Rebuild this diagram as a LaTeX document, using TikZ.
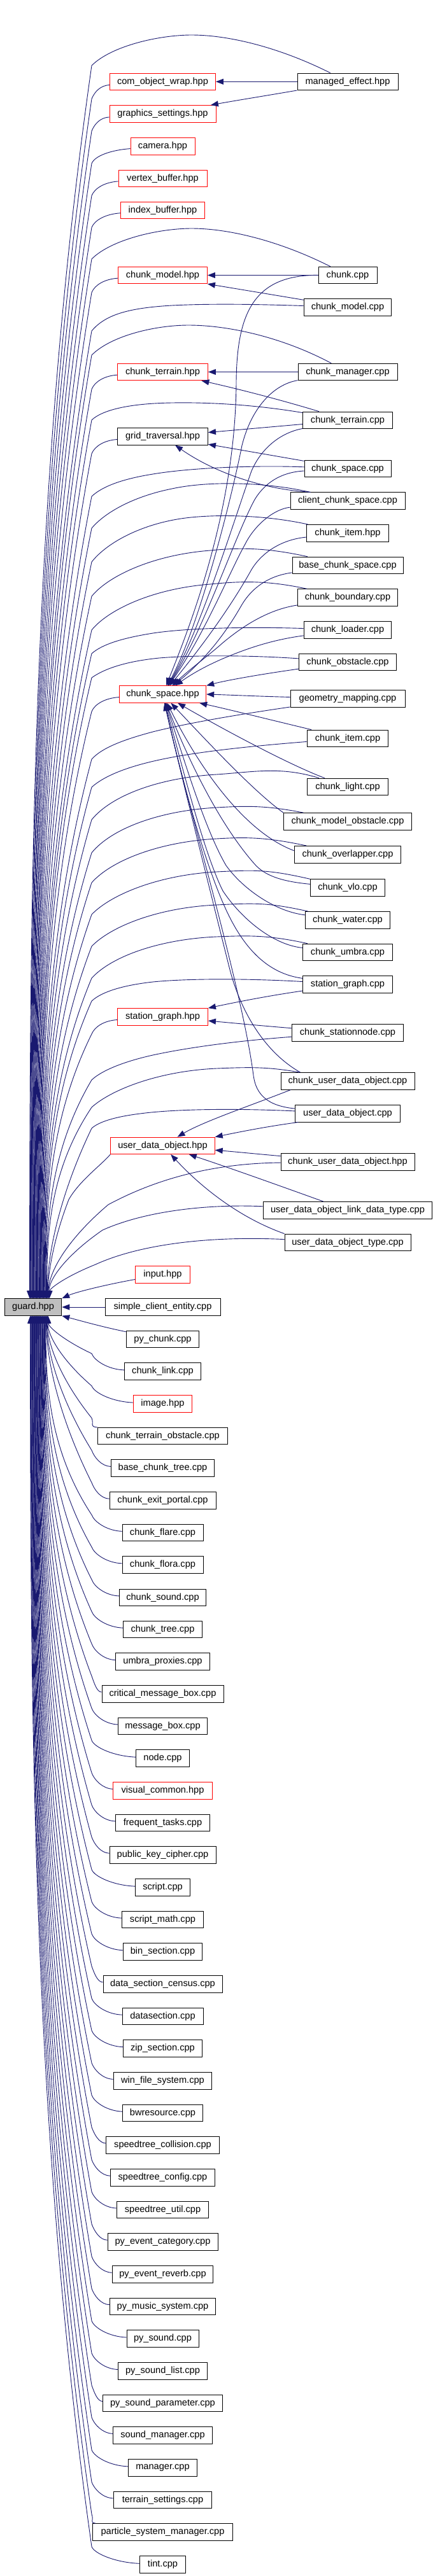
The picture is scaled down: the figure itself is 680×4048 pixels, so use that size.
\documentclass[tikz,border=0pt]{standalone}
\usepackage{fontspec}
\setmainfont{Liberation Sans}
\usetikzlibrary{arrows.meta}
\definecolor{edgecol}{HTML}{191970}
\definecolor{guardgray}{HTML}{BFBFBF}
\tikzset{
  nbox/.style={draw=black, line width=0.9pt, fill=white, minimum height=26.5pt, inner sep=0pt, font=\fontsize{14.6}{17}\selectfont},
  rbox/.style={nbox, draw=red},
  conn/.style={draw=edgecol, line width=0.9pt, -{Triangle[length=12pt,width=9pt]}},
}
% tail from a knee down to the top of guard
\newcommand\gtail[4]{%
  \pgfmathsetmacro\Lt{2040.7-#3}%
  \pgfmathsetmacro\pax{#4+(#2-#4)*0.35*(\Lt<300)}%
  \pgfmathsetmacro\pay{#3+0.35*\Lt}%
  \pgfmathsetmacro\pby{2040.7-0.3*\Lt}%
  \pgfmathsetmacro\gxo{#4-7.4}%
  \draw[conn] #1 .. controls (\pax,\pay) and (#4,\pby) .. ([xshift=\gxo pt]guard.north west);%
}
\newcommand\upE[4]{%
  \pgfmathsetmacro\xl{255.5-#3/2}%
  \pgfmathsetmacro\ca{(\xl+144)/2}%
  \pgfmathsetmacro\ya{#2+6}%
  \pgfmathsetmacro\yb{#2+15}%
  \pgfmathsetmacro\yk{#2+27}%
  \gtail{(#1) .. controls (\ca,\ya) and (149,\yb) .. (144,\yk)}{144}{\yk}{#4}%
}
\newcommand\lowE[4]{%
  \pgfmathsetmacro\xl{255.5-#3/2}%
  \ifdim #3pt>195pt
    \def\ca{140}\pgfmathsetmacro\ya{#2-15}%
  \else
    \pgfmathsetmacro\ca{(\xl+144)/2}\pgfmathsetmacro\ya{#2-3}%
  \fi
  \pgfmathsetmacro\yb{#2-17}%
  \pgfmathsetmacro\yk{#2-28}%
  \pgfmathsetmacro\Lt{\yk-2067.3}%
  \pgfmathsetmacro\pax{#4+(144-#4)*0.35*(\Lt<300)}%
  \pgfmathsetmacro\pay{\yk-0.35*\Lt}%
  \pgfmathsetmacro\pby{2067.3+0.3*\Lt}%
  \pgfmathsetmacro\gxo{#4-7.4}%
  \draw[conn] (#1) .. controls (\ca,\ya) and (148,\yb) .. (144,\yk) .. controls (\pax,\pay) and (#4,\pby) .. ([xshift=\gxo pt]guard.south west);%
}
\newcommand\lownode[6]{\node[#5, minimum width=#3pt] (#1) at (255.5,#2) {#4}; \lowE{#1}{#2}{#3}{#6}}

\begin{document}
\begin{tikzpicture}[x=1pt,y=-1pt]
\fill[white] (0,0) rectangle (680,4048);
\useasboundingbox (0,0) rectangle (680,4048);

% main node
\node[nbox, fill=guardgray, minimum width=89.4pt] (guard) at (52.1,2054) {guard.hpp};

% column 2, above guard
\node[rbox, minimum width=166pt] (cow) at (255.5,128.3) {com\_object\_wrap.hpp};
\node[rbox, minimum width=167pt] (gs) at (255.5,178.8) {graphics\_settings.hpp};
\node[rbox, minimum width=101pt] (cam) at (255.5,229.8) {camera.hpp};
\node[rbox, minimum width=139pt] (vb) at (255.5,280.3) {vertex\_buffer.hpp};
\node[rbox, minimum width=132pt] (ib) at (255.5,330.3) {index\_buffer.hpp};
\node[rbox, minimum width=140pt] (cmh) at (255.5,432.5) {chunk\_model.hpp};
\node[rbox, minimum width=142pt] (cth) at (255.5,584.5) {chunk\_terrain.hpp};
\node[nbox, minimum width=142pt] (gt) at (255.5,685.8) {grid\_traversal.hpp};
\node[rbox, minimum width=136.5pt] (csh) at (255.5,1091) {chunk\_space.hpp};
\node[rbox, minimum width=142pt] (sgh) at (255.5,1597.8) {station\_graph.hpp};
\node[rbox, minimum width=163.5pt] (udoh) at (255.5,1800.3) {user\_data\_object.hpp};
\node[rbox, minimum width=85.5pt] (inp) at (255.5,2002.7) {input.hpp};

% column 3
\node[nbox, minimum width=158pt] (me) at (546,128.3) {managed\_effect.hpp};
\node[nbox, minimum width=92pt] (ccpp) at (546,432.5) {chunk.cpp};
\node[nbox, minimum width=137.7pt] (cmcpp) at (546,482.8) {chunk\_model.cpp};
\node[nbox, minimum width=156pt] (cman) at (546,584.5) {chunk\_manager.cpp};
\node[nbox, minimum width=140.8pt] (ctcpp) at (546,660.3) {chunk\_terrain.cpp};
\node[nbox, minimum width=136pt] (cscpp) at (546,736.3) {chunk\_space.cpp};
\node[nbox, minimum width=180pt] (ccs) at (546,787) {client\_chunk\_space.cpp};
\node[nbox, minimum width=128.6pt] (cih) at (546,837.8) {chunk\_item.hpp};
\node[nbox, minimum width=174pt] (bcs) at (546,888.3) {base\_chunk\_space.cpp};
\node[nbox, minimum width=157.3pt] (cbound) at (546,939) {chunk\_boundary.cpp};
\node[nbox, minimum width=137.7pt] (cload) at (546,989.8) {chunk\_loader.cpp};
\node[nbox, minimum width=152.6pt] (cobs) at (546,1040.3) {chunk\_obstacle.cpp};
\node[nbox, minimum width=180pt] (gm) at (546,1097.8) {geometry\_mapping.cpp};
\node[nbox, minimum width=127.7pt] (cicpp) at (546,1160.3) {chunk\_item.cpp};
\node[nbox, minimum width=127.7pt] (clight) at (546,1236.3) {chunk\_light.cpp};
\node[nbox, minimum width=201pt] (cmo) at (546,1290.8) {chunk\_model\_obstacle.cpp};
\node[nbox, minimum width=167.8pt] (cover) at (546,1342.7) {chunk\_overlapper.cpp};
\node[nbox, minimum width=117.2pt] (cvlo) at (546,1394.8) {chunk\_vlo.cpp};
\node[nbox, minimum width=133pt] (cwater) at (546,1445.8) {chunk\_water.cpp};
\node[nbox, minimum width=141.2pt] (cumbra) at (546,1496.3) {chunk\_umbra.cpp};
\node[nbox, minimum width=141.2pt] (sgcpp) at (546,1546.8) {station\_graph.cpp};
\node[nbox, minimum width=175.7pt] (cstn) at (546,1622.8) {chunk\_stationnode.cpp};
\node[nbox, minimum width=210pt] (cudoc) at (546,1698.8) {chunk\_user\_data\_object.cpp};
\node[nbox, minimum width=164.3pt] (udoc) at (546,1749.8) {user\_data\_object.cpp};
\node[nbox, minimum width=210pt] (cudoh) at (546,1826) {chunk\_user\_data\_object.hpp};
\node[nbox, minimum width=265.4pt] (udol) at (546,1901.8) {user\_data\_object\_link\_data\_type.cpp};
\node[nbox, minimum width=198pt] (udot) at (546,1952.3) {user\_data\_object\_type.cpp};

% column 2, at and below guard
\node[nbox, minimum width=181pt] (sce) at (255.5,2054) {simple\_client\_entity.cpp};
\node[nbox, minimum width=114.7pt] (pyc) at (255.5,2104.5) {py\_chunk.cpp};
\draw[conn] (sce) -- (guard);
\draw[conn] (pyc) .. controls (160,2085) and (125,2075) .. (guard.south east);
\draw[conn] (inp) .. controls (170,2018) and (120,2030) .. (guard.north east);

\lownode{clink}{2155}{120.3}{chunk\_link.cpp}{nbox}{76}
\lownode{img}{2205.8}{92.4}{image.hpp}{rbox}{75.2}
\lownode{cto}{2256.3}{204.5}{chunk\_terrain\_obstacle.cpp}{nbox}{74.5}
\lownode{bct}{2307}{162.6}{base\_chunk\_tree.cpp}{nbox}{73.7}
\lownode{cep}{2357.8}{167}{chunk\_exit\_portal.cpp}{nbox}{73}
\lownode{cfl}{2408.5}{127}{chunk\_flare.cpp}{nbox}{72.2}
\lownode{cflo}{2459}{127}{chunk\_flora.cpp}{nbox}{71.5}
\lownode{csnd}{2510.2}{136.4}{chunk\_sound.cpp}{nbox}{70.7}
\lownode{ctree}{2560.3}{123.4}{chunk\_tree.cpp}{nbox}{69.9}
\lownode{uprox}{2611}{147.4}{umbra\_proxies.cpp}{nbox}{69.2}
\lownode{cmb}{2661.8}{191}{critical\_message\_box.cpp}{nbox}{68.4}
\lownode{mb}{2712.3}{140}{message\_box.cpp}{nbox}{67.7}
\lownode{nodec}{2762.8}{83.3}{node.cpp}{nbox}{66.9}
\lownode{vc}{2813.8}{155.2}{visual\_common.hpp}{rbox}{66.2}
\lownode{ft}{2864.3}{147.8}{frequent\_tasks.cpp}{nbox}{65.4}
\lownode{pkc}{2914.8}{167}{public\_key\_cipher.cpp}{nbox}{64.6}
\lownode{scr}{2965.8}{86.3}{script.cpp}{nbox}{63.9}
\lownode{smath}{3016.3}{128.6}{script\_math.cpp}{nbox}{63.1}
\lownode{bins}{3066.8}{124.7}{bin\_section.cpp}{nbox}{62.4}
\lownode{dsc}{3117.7}{187}{data\_section\_census.cpp}{nbox}{61.6}
\lownode{ds}{3168.3}{127}{datasection.cpp}{nbox}{60.9}
\lownode{zips}{3218.8}{123.4}{zip\_section.cpp}{nbox}{60.1}
\lownode{wfs}{3269.8}{154.7}{win\_file\_system.cpp}{nbox}{59.3}
\lownode{bwr}{3320.3}{126}{bwresource.cpp}{nbox}{58.6}
\lownode{stcol}{3370.7}{177.4}{speedtree\_collision.cpp}{nbox}{57.8}
\lownode{stconf}{3421.8}{163.5}{speedtree\_config.cpp}{nbox}{57.1}
\lownode{stutil}{3472.3}{144.7}{speedtree\_util.cpp}{nbox}{56.3}
\lownode{pyec}{3522.8}{173}{py\_event\_category.cpp}{nbox}{55.6}
\lownode{pyer}{3573.8}{158.7}{py\_event\_reverb.cpp}{nbox}{54.8}
\lownode{pyms}{3624.3}{166}{py\_music\_system.cpp}{nbox}{54}
\lownode{pys}{3675}{113}{py\_sound.cpp}{nbox}{53.3}
\lownode{pysl}{3725.8}{140}{py\_sound\_list.cpp}{nbox}{52.5}
\lownode{pysp}{3776.3}{188}{py\_sound\_parameter.cpp}{nbox}{51.8}
\lownode{sndm}{3826.8}{155.6}{sound\_manager.cpp}{nbox}{51}
\lownode{mgr}{3877.8}{108.5}{manager.cpp}{nbox}{50.3}
\lownode{ts}{3928.3}{154.7}{terrain\_settings.cpp}{nbox}{49.5}
\lownode{psm}{3978.8}{220.6}{particle\_system\_manager.cpp}{nbox}{48.7}
\lownode{tint}{4029.8}{72.8}{tint.cpp}{nbox}{48}

% edges into guard from above: column 2
\upE{cow}{128.3}{166}{47.8}
\upE{gs}{178.8}{167}{48.7}
\upE{cam}{229.8}{101}{49.5}
\upE{vb}{280.3}{139}{50.4}
\upE{ib}{330.3}{132}{51.2}
\upE{cmh}{432.5}{140}{52.9}
\upE{cth}{584.5}{142}{55.4}
\upE{gt}{685.8}{142}{57.1}
\upE{csh}{1091}{136.5}{63.8}
\upE{sgh}{1597.8}{142}{72.2}

% edges into guard from above: column 3
\gtail{(me) .. controls (440,75) and (360,55) .. (301,55) .. controls (250,55) and (175,72) .. (144,103)}{144}{103}{47}
\gtail{(ccpp) .. controls (440,379) and (360,359) .. (301,359) .. controls (250,359) and (175,376) .. (144,407)}{144}{407}{52}
\gtail{(cmcpp) .. controls (400,478) and (330,477) .. (270,480) .. controls (200,484) and (165,495) .. (144,520)}{144}{520}{53.7}
\gtail{(cman) .. controls (440,528) and (355,511) .. (296,511) .. controls (245,511) and (175,527) .. (144,558)}{144}{558}{54.6}
\gtail{(ctcpp) .. controls (400,636) and (330,632) .. (270,633) .. controls (200,634) and (160,645) .. (144,660)}{144}{660}{56.2}
\gtail{(cscpp) .. controls (400,731) and (300,735) .. (240,745) .. controls (190,753) and (160,765) .. (144,780)}{144}{780}{57.9}
\gtail{(ccs) .. controls (420,758) and (330,755) .. (270,768) .. controls (210,780) and (165,805) .. (144,830)}{144}{830}{58.8}
\gtail{(cih) .. controls (420,810) and (350,808) .. (300,813) .. controls (230,820) and (170,850) .. (144,883)}{144}{883}{59.6}
\gtail{(bcs) .. controls (420,861) and (380,860) .. (330,865) .. controls (240,872) and (170,905) .. (144,937)}{144}{937}{60.4}
\gtail{(cbound) .. controls (420,912) and (380,913) .. (330,918) .. controls (240,925) and (170,958) .. (144,990)}{144}{990}{61.3}
\gtail{(cload) .. controls (400,985) and (300,986) .. (240,995) .. controls (190,1003) and (160,1013) .. (144,1027)}{144}{1027}{62.1}
\gtail{(cobs) .. controls (400,1030) and (310,1029) .. (250,1034) .. controls (200,1039) and (165,1050) .. (144,1065)}{144}{1065}{63}
\gtail{(gm) .. controls (380,1122) and (300,1135) .. (240,1150) .. controls (195,1162) and (160,1175) .. (144,1193)}{144}{1193}{64.6}
\gtail{(cicpp) .. controls (400,1172) and (320,1180) .. (260,1192) .. controls (205,1203) and (165,1218) .. (144,1237)}{144}{1237}{65.5}
\gtail{(clight) .. controls (440,1204) and (400,1213) .. (340,1217) .. controls (250,1222) and (175,1250) .. (144,1288)}{144}{1288}{66.3}
\gtail{(cmo) .. controls (420,1266) and (390,1266) .. (340,1269) .. controls (250,1274) and (175,1302) .. (144,1340)}{144}{1340}{67.2}
\gtail{(cover) .. controls (420,1316) and (390,1315) .. (340,1318) .. controls (250,1323) and (175,1352) .. (144,1387)}{144}{1387}{68}
\gtail{(cvlo) .. controls (420,1366) and (400,1367) .. (340,1370) .. controls (250,1375) and (175,1405) .. (144,1437)}{144}{1437}{68.8}
\gtail{(cwater) .. controls (420,1418) and (400,1419) .. (340,1422) .. controls (250,1426) and (175,1455) .. (144,1487)}{144}{1487}{69.7}
\gtail{(cumbra) .. controls (420,1469) and (390,1470) .. (340,1472) .. controls (250,1476) and (175,1503) .. (144,1537)}{144}{1537}{70.5}
\gtail{(sgcpp) .. controls (400,1538) and (300,1537) .. (240,1543) .. controls (195,1548) and (160,1558) .. (144,1573)}{144}{1573}{71.4}
\gtail{(cstn) .. controls (380,1635) and (300,1645) .. (240,1658) .. controls (195,1668) and (160,1682) .. (144,1697)}{144}{1697}{73}
\gtail{(cudoc) .. controls (420,1676) and (390,1677) .. (340,1679) .. controls (250,1683) and (175,1712) .. (144,1740)}{144}{1740}{73.9}
\gtail{(udoc) .. controls (380,1742) and (280,1742) .. (220,1750) .. controls (180,1755) and (155,1763) .. (144,1773)}{144}{1773}{74.7}
\gtail{(udoh.south west) .. controls (160,1830) and (125,1855) .. (108,1885)}{108}{1885}{75.6}
\gtail{(cudoh) .. controls (340,1828) and (250,1850) .. (170,1893)}{170}{1893}{76.4}
\gtail{(udol) .. controls (330,1892) and (230,1902) .. (161,1933)}{161}{1933}{77.2}
\gtail{(udot) .. controls (330,1942) and (220,1955) .. (150,1987)}{150}{1987}{78.1}

% column 3 -> column 2 (upper part)
\draw[conn] (me) -- (cow);
\draw[conn] (me) .. controls (420,150) and (370,158) .. (gs);
\draw[conn] (ccpp) -- (cmh);
\draw[conn] (cmcpp) -- (cmh.south east);
\draw[conn] (cman) -- (cth);
\draw[conn] (ctcpp) .. controls (430,625) and (360,608) .. (cth);
\draw[conn] (ctcpp) -- (gt);
\draw[conn] (cscpp) -- (gt);
\draw[conn] ([xshift=32.5pt]ccs.north west) .. controls (420,770) and (340,745) .. (gt);

% into chunk_space.hpp
\draw[conn] (ccpp) .. controls (400,432) and (372,490) .. (371,600) .. controls (370,800) and (300,980) .. (csh);
\draw[conn] (cman) .. controls (430,604) and (395,640) .. (380,700) .. controls (360,800) and (310,990) .. (csh);
\draw[conn] (ctcpp) .. controls (440,680) and (410,705) .. (395,740) .. controls (370,810) and (315,990) .. (csh);
\draw[conn] (cscpp) .. controls (440,742) and (415,760) .. (400,785) .. controls (370,840) and (320,990) .. (csh);
\draw[conn] (ccs) .. controls (430,800) and (400,825) .. (385,855) .. controls (360,900) and (322,995) .. (csh);
\draw[conn] (cih) .. controls (440,848) and (410,870) .. (395,895) .. controls (370,940) and (330,1000) .. (csh);
\draw[conn] (bcs) .. controls (420,905) and (395,925) .. (380,950) .. controls (360,985) and (330,1030) .. (csh);
\draw[conn] (cbound) .. controls (420,958) and (380,985) .. (350,1010) .. controls (330,1028) and (300,1050) .. (csh);
\draw[conn] (cload) .. controls (430,1005) and (390,1018) .. (350,1035) .. controls (320,1048) and (300,1060) .. (csh);
\draw[conn] (cobs) .. controls (420,1058) and (360,1068) .. (csh.north east);
\draw[conn] (gm) .. controls (400,1094) and (360,1092) .. (csh.east);
\draw[conn] (cicpp) .. controls (420,1130) and (360,1115) .. ([xshift=-11pt]csh.south east);
\draw[conn] (clight) .. controls (450,1200) and (340,1140) .. (csh);
\draw[conn] (cmo.north west) .. controls (400,1245) and (330,1170) .. (csh);
\draw[conn] ([yshift=6pt]cover.west) .. controls (390,1310) and (320,1220) .. (csh);
\draw[conn] (cvlo) .. controls (440,1385) and (415,1375) .. (400,1358) .. controls (340,1290) and (290,1180) .. (csh);
\draw[conn] (cwater) .. controls (430,1432) and (380,1395) .. (355,1360) .. controls (320,1300) and (285,1180) .. (csh);
\draw[conn] (cumbra) .. controls (430,1485) and (380,1445) .. (350,1400) .. controls (320,1340) and (285,1200) .. (csh);
\draw[conn] (sgcpp) .. controls (420,1530) and (385,1490) .. (360,1440) .. controls (320,1360) and (280,1200) .. (csh);
\draw[conn] ([xshift=31pt]cudoc.north west) .. controls (410,1650) and (375,1580) .. (360,1520) .. controls (330,1400) and (280,1200) .. (csh);
\draw[conn] (udoc) .. controls (420,1738) and (402,1720) .. (398,1690) .. controls (380,1550) and (290,1250) .. (csh);

% station_graph.hpp and user_data_object.hpp
\draw[conn] (sgcpp) .. controls (420,1565) and (370,1575) .. (sgh.north east);
\draw[conn] (cstn) .. controls (400,1611) and (360,1607) .. (sgh);
\draw[conn] ([xshift=16pt]cudoc.south west) .. controls (400,1735) and (320,1762) .. (udoh);
\draw[conn] ([xshift=5pt]udoc.south west) .. controls (420,1770) and (380,1778) .. (udoh.north east);
\draw[conn] (cudoh) .. controls (400,1813) and (370,1810) .. (udoh);
\draw[conn] (udol) .. controls (430,1860) and (360,1835) .. (udoh);
\draw[conn] (udot.north west) .. controls (380,1915) and (320,1870) .. (udoh);
\end{tikzpicture}
\end{document}
